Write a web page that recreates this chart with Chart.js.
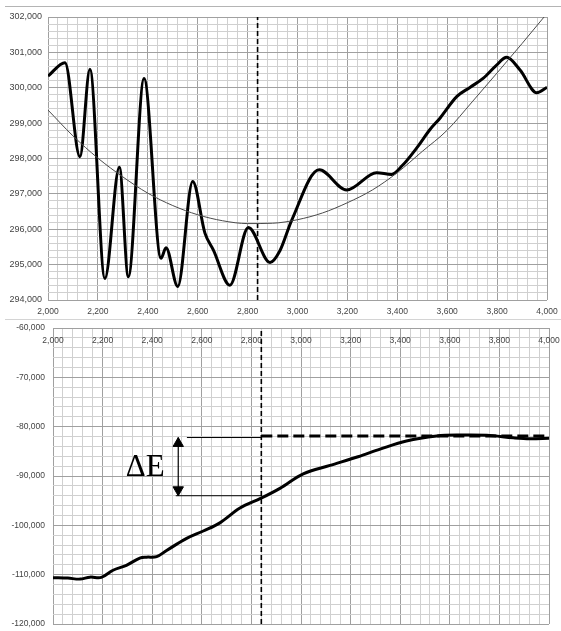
<!DOCTYPE html>
<html>
<head>
<meta charset="utf-8">
<script src="https://cdn.jsdelivr.net/npm/chart.js@4/dist/chart.umd.min.js"></script>
<style>
  body { margin: 0; background: #fff; width: 561px; height: 631px; position: relative; overflow: hidden; }
  canvas { position: absolute; left: 0; }
  #topChart { top: 0; }
  #bottomChart { top: 320px; }
  .rule { position: absolute; height: 1px; left: 5px; right: 0; }
</style>
</head>
<body>
<div class="rule" style="top:6px;background:#b4b4b4"></div>
<div class="rule" style="top:319px;background:#d4d4d4"></div>
<canvas id="topChart" width="561" height="318"></canvas>
<canvas id="bottomChart" width="561" height="311"></canvas>
<script>
// upper panel: energy profile (thick) and fitted curve (thin)
const topX = [2000, 2068, 2128, 2168, 2228, 2286, 2322, 2385, 2453, 2473, 2520, 2580, 2629, 2663, 2729, 2803, 2890, 2930, 2977, 3087, 3197, 3317, 3377, 3420, 3478, 3531, 3571, 3638, 3691, 3745, 3798, 3838, 3892, 3959, 4000];
const topE = [300330, 300710, 298050, 300520, 294610, 297750, 294660, 300260, 295180, 295480, 294380, 297350, 295890, 295410, 294420, 296050, 295060, 295400, 296260, 297680, 297110, 297600, 297550, 297800, 298300, 298820, 299140, 299750, 300010, 300270, 300640, 300860, 300500, 299860, 300010];

const fitX = [2000, 2100, 2200, 2300, 2400, 2500, 2600, 2700, 2800, 2900, 3000, 3100, 3200, 3300, 3400, 3500, 3600, 3700, 3800, 3900, 4000];
const fitE = [299370, 298640, 298010, 297480, 297020, 296670, 296410, 296240, 296160, 296170, 296270, 296460, 296750, 297110, 297600, 298200, 298800, 299600, 300420, 301250, 302100];

// lower panel: cumulative curve
const bottomX = [2000, 2060, 2109, 2149, 2195, 2242, 2296, 2350, 2377, 2418, 2458, 2539, 2606, 2673, 2754, 2839, 2915, 3009, 3117, 3230, 3319, 3425, 3547, 3641, 3749, 3856, 3923, 4000];
const bottomE = [-110600, -110700, -110900, -110500, -110550, -109100, -108100, -106650, -106450, -106350, -105100, -102650, -101150, -99500, -96500, -94500, -92500, -89550, -87850, -86100, -84550, -82900, -81900, -81700, -81750, -82250, -82450, -82350];

// marker and delta-E annotation values
const markerX = 2840;
const plateauE = -81900;
const upperGuide = [2540, -82200];
const lowerGuide = [2495, -94000];
const arrowX = 2505;
const arrowHeads = [-83400, -92800];
const deltaLabel = ['ΔE', 2372, -90000];

const topRange = [2000, 4000, 294000, 302000];
const bottomRange = [2000, 4000, -120000, -60000];

function pts(xs, ys) {
  return xs.map(function(x, i) { return {x: x, y: ys[i]}; });
}

const MAJOR = '#a0a0a0';
const MINOR = '#d0d0d0';
const LABEL = '#444';

function gridColor(step) {
  return function(ctx) {
    if (!ctx.tick) return MINOR;
    return Math.abs(ctx.tick.value % step) < 1e-6 ? MAJOR : MINOR;
  };
}

function tickText(step) {
  return function(value) {
    return Math.abs(value % step) < 1e-6 ? value.toLocaleString('en-US') : '';
  };
}

const deltaPlugin = {
  id: 'deltaText',
  afterDatasetsDraw: function(chart) {
    if (chart.canvas.id !== 'bottomChart') return;
    const ctx = chart.ctx;
    ctx.save();
    ctx.fillStyle = '#000';
    ctx.font = '31px "Liberation Serif", "DejaVu Serif", serif';
    ctx.textAlign = 'center';
    ctx.textBaseline = 'alphabetic';
    ctx.fillText(deltaLabel[0], chart.scales.x.getPixelForValue(deltaLabel[1]), chart.scales.y.getPixelForValue(deltaLabel[2]));
    ctx.restore();
  }
};

const common = {
  responsive: false,
  animation: false,
  devicePixelRatio: 1,
  plugins: { legend: { display: false }, tooltip: { enabled: false } },
  elements: { point: { radius: 0 } }
};

new Chart(document.getElementById('topChart'), {
  type: 'line',
  data: {
    datasets: [
      { data: pts(fitX, fitE), borderColor: '#4a4a4a', borderWidth: 1, cubicInterpolationMode: 'monotone' },
      { data: pts(topX, topE), borderColor: '#000', borderWidth: 3, cubicInterpolationMode: 'monotone' },
      { data: [{x: markerX, y: topRange[2]}, {x: markerX, y: topRange[3]}], borderColor: '#000', borderWidth: 1.6, borderDash: [5, 3] }
    ]
  },
  options: Object.assign({}, common, {
    layout: { padding: { top: 17, right: 14, left: 0, bottom: 0 } },
    scales: {
      x: {
        type: 'linear', min: topRange[0], max: topRange[1],
        grid: { color: gridColor(200), drawTicks: false },
        border: { display: false },
        ticks: { stepSize: 40, autoSkip: false, maxRotation: 0, minRotation: 0, padding: 7, color: LABEL,
                 font: { family: 'Liberation Sans', size: 8.5 }, callback: tickText(200) },
        afterFit: function(s) { s.height = 18; s.paddingLeft = 0; s.paddingRight = 0; }
      },
      y: {
        min: topRange[2], max: topRange[3],
        grid: { color: gridColor(1000), drawTicks: false },
        border: { display: false },
        ticks: { stepSize: 200, autoSkip: false, padding: 6, color: LABEL,
                 font: { family: 'Liberation Sans', size: 9 }, callback: tickText(1000) },
        afterFit: function(s) { s.width = 48; s.paddingTop = 0; s.paddingBottom = 0; }
      }
    }
  })
});

new Chart(document.getElementById('bottomChart'), {
  type: 'line',
  data: {
    datasets: [
      { data: pts(bottomX, bottomE), borderColor: '#000', borderWidth: 3, tension: 0.35 },
      { data: [{x: markerX, y: plateauE}, {x: bottomRange[1], y: plateauE}], borderColor: '#000', borderWidth: 3, borderDash: [11, 5] },
      { data: [{x: markerX, y: bottomRange[2]}, {x: markerX, y: bottomRange[3]}], borderColor: '#000', borderWidth: 1.6, borderDash: [5, 3] },
      { data: [{x: upperGuide[0], y: upperGuide[1]}, {x: markerX, y: upperGuide[1]}], borderColor: '#000', borderWidth: 1 },
      { data: [{x: lowerGuide[0], y: lowerGuide[1]}, {x: markerX, y: lowerGuide[1]}], borderColor: '#000', borderWidth: 1 },
      { data: [{x: arrowX, y: upperGuide[1]}, {x: arrowX, y: lowerGuide[1]}], borderColor: '#000', borderWidth: 1.2 },
      { data: [{x: arrowX, y: arrowHeads[0]}, {x: arrowX, y: arrowHeads[1]}], showLine: false,
        pointStyle: 'triangle', pointRadius: 6, pointRotation: [0, 180],
        pointBackgroundColor: '#000', pointBorderColor: '#000', pointBorderWidth: 1 }
    ]
  },
  options: Object.assign({}, common, {
    layout: { padding: { top: 0, right: 12, left: 0, bottom: 2 } },
    scales: {
      x: {
        type: 'linear', position: 'top', min: bottomRange[0], max: bottomRange[1],
        grid: { color: gridColor(200), drawTicks: false },
        border: { display: false },
        // labels sit inside the plot, just under its top edge
        ticks: { stepSize: 40, autoSkip: false, maxRotation: 0, minRotation: 0, mirror: true, padding: 8, color: LABEL,
                 font: { family: 'Liberation Sans', size: 8.5 }, callback: tickText(200) },
        afterFit: function(s) { s.height = 8; s.paddingLeft = 0; s.paddingRight = 0; }
      },
      y: {
        min: bottomRange[2], max: bottomRange[3],
        grid: { color: gridColor(10000), drawTicks: false },
        border: { display: false },
        ticks: { stepSize: 2000, autoSkip: false, padding: 8, color: LABEL,
                 font: { family: 'Liberation Sans', size: 8.5 }, callback: tickText(10000) },
        afterFit: function(s) { s.width = 53; s.paddingTop = 0; s.paddingBottom = 0; }
      }
    }
  }),
  plugins: [deltaPlugin]
});
</script>
</body>
</html>
